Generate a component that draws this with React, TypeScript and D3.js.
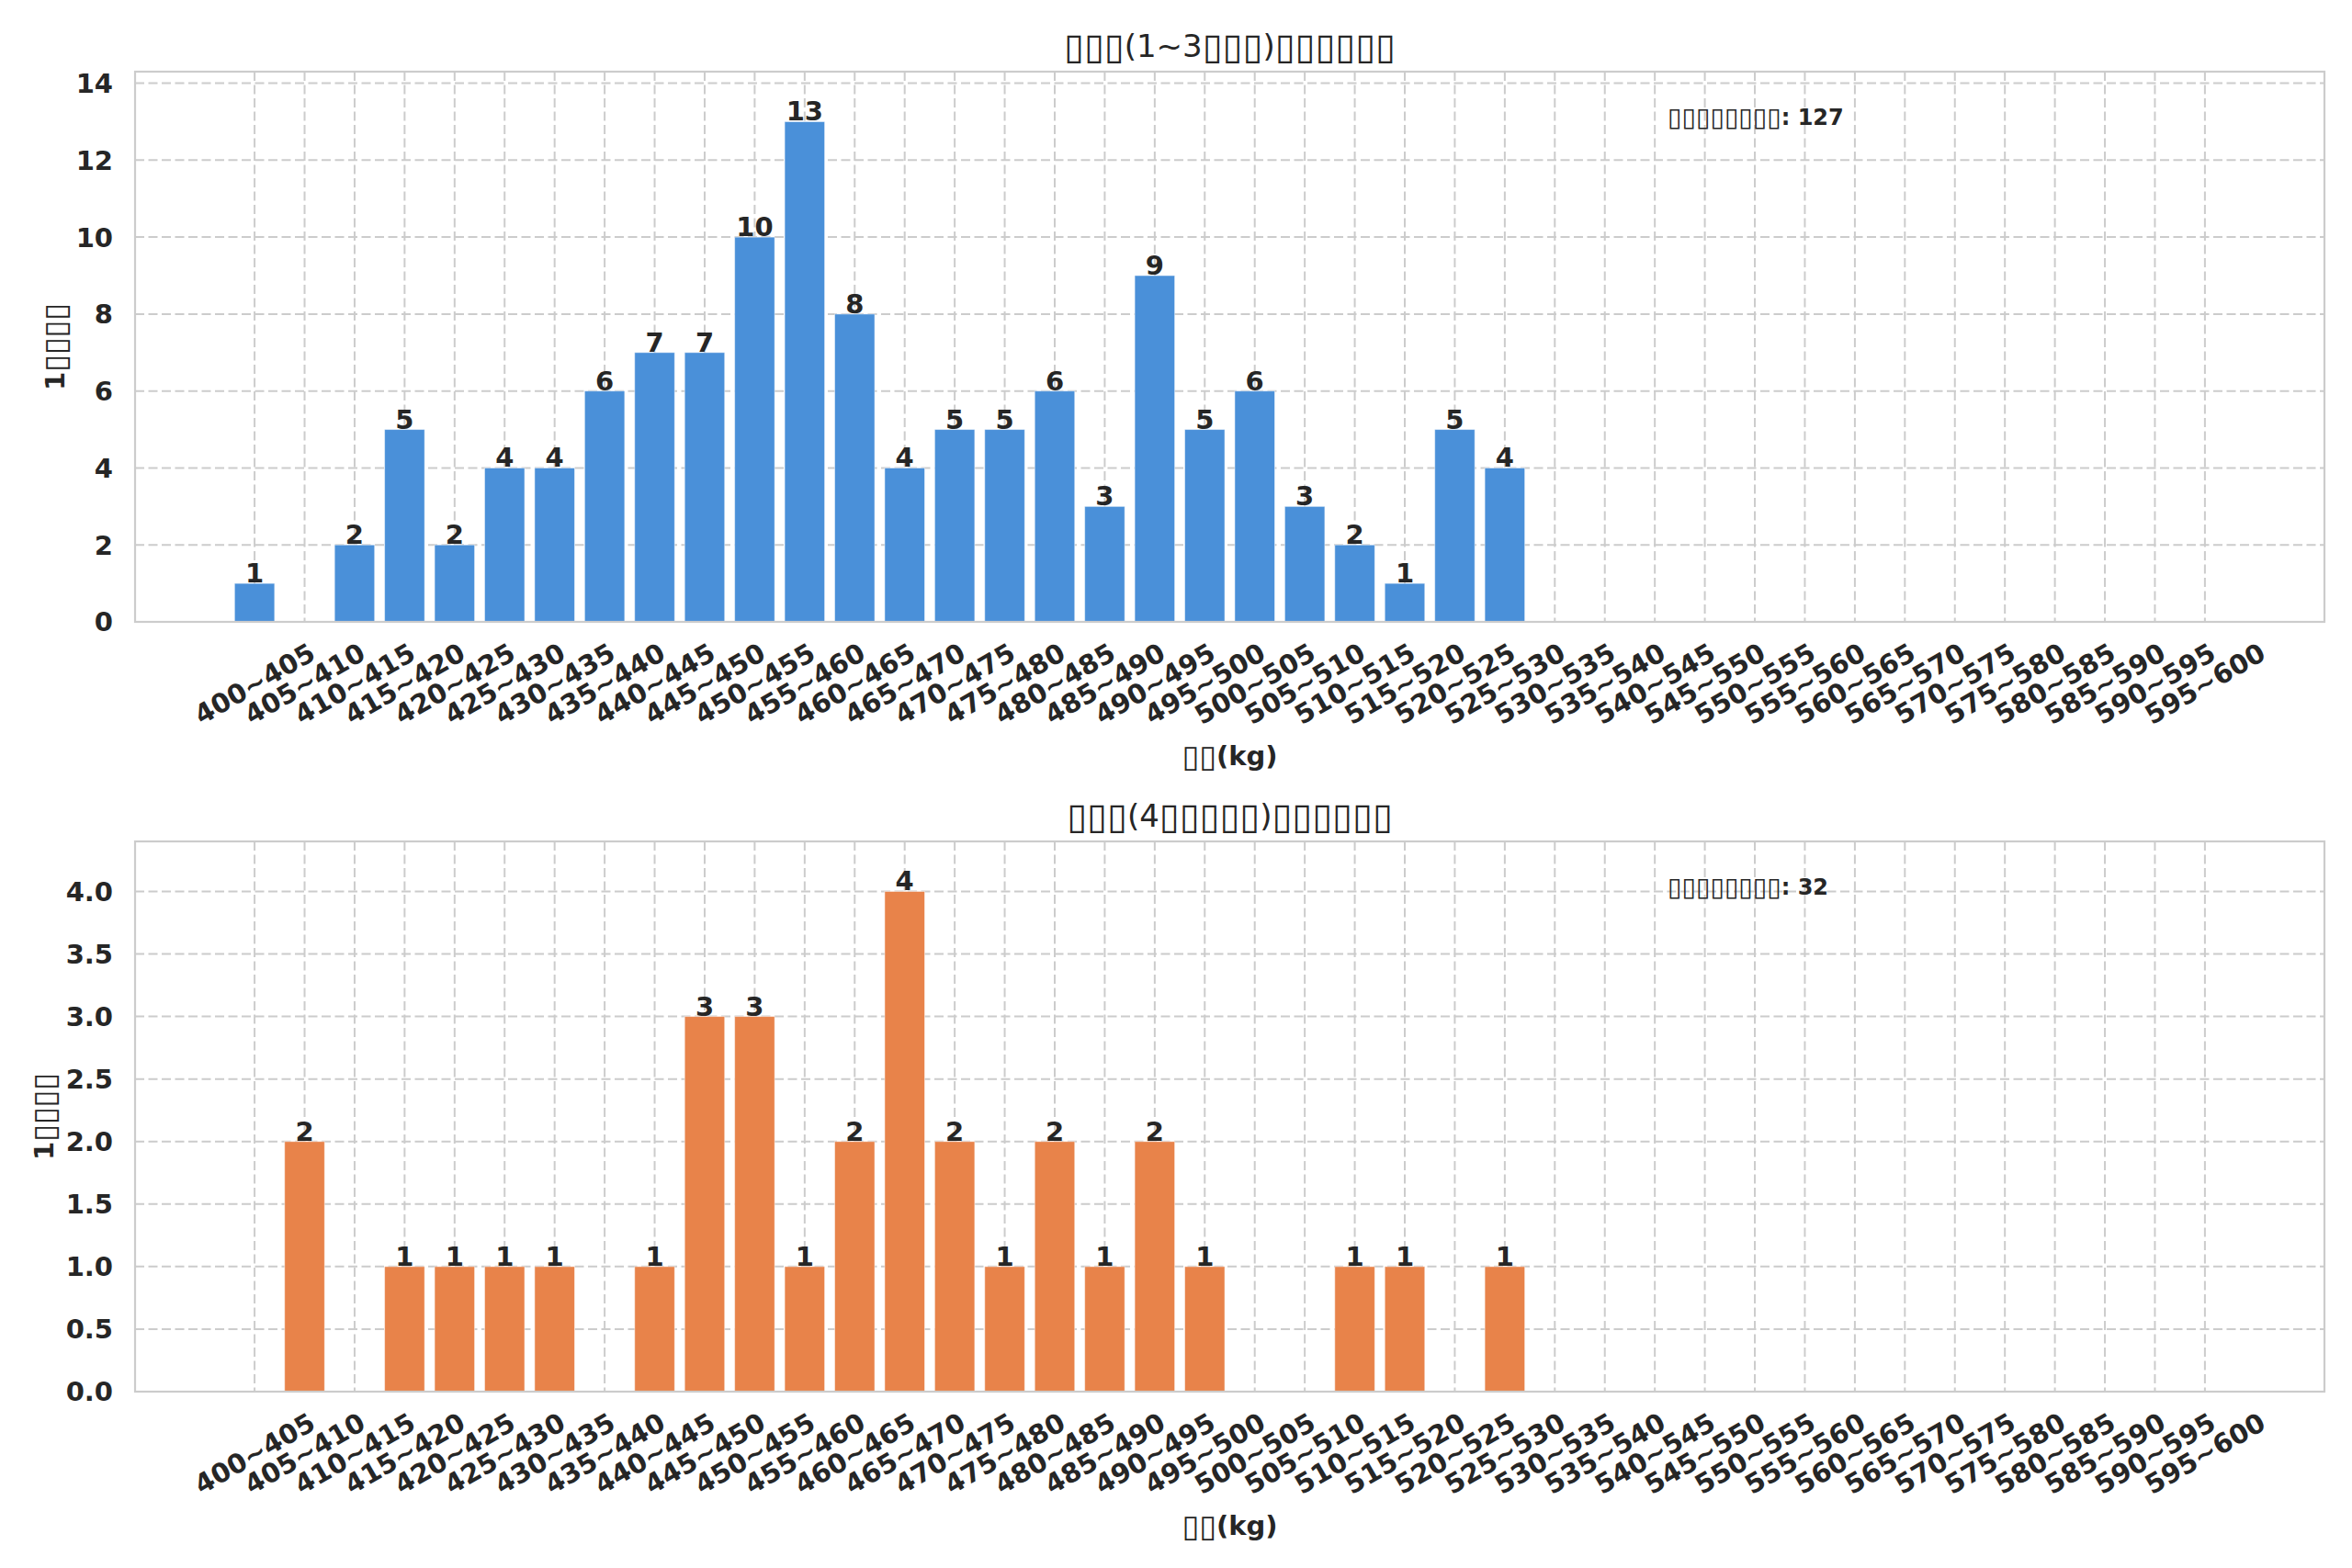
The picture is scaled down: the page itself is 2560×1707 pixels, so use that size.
import { useRef, useEffect } from "react";
import * as d3 from "d3";

// weight bins (kg)
const weightBins = [
  "400~405", "405~410", "410~415", "415~420", "420~425", "425~430", "430~435", "435~440",
  "440~445", "445~450", "450~455", "455~460", "460~465", "465~470", "470~475", "475~480",
  "480~485", "485~490", "490~495", "495~500", "500~505", "505~510", "510~515", "515~520",
  "520~525", "525~530", "530~535", "535~540", "540~545", "545~550", "550~555", "555~560",
  "560~565", "565~570", "570~575", "575~580", "580~585", "585~590", "590~595", "595~600",
];

const countsEarly = [
  1, 0, 2, 5, 2, 4, 4, 6, 7, 7, 10, 13, 8, 4, 5, 5, 6, 3, 9, 5,
  6, 3, 2, 1, 5, 4, 0, 0, 0, 0, 0, 0, 0, 0, 0, 0, 0, 0, 0, 0,
];
const countsLate = [
  0, 2, 0, 1, 1, 1, 1, 0, 1, 3, 3, 1, 2, 4, 2, 1, 2, 1, 2, 1,
  0, 0, 1, 1, 0, 1, 0, 0, 0, 0, 0, 0, 0, 0, 0, 0, 0, 0, 0, 0,
];

const yTicksEarly = [0, 2, 4, 6, 8, 10, 12, 14];
const yTicksLate = [0, 0.5, 1, 1.5, 2, 2.5, 3, 3.5, 4];

// the source chart's CJK glyphs were not rendered (shown as empty boxes)
const titleEarly = "□□□(1~3□□□)□□□□□□";
const titleLate = "□□□(4□□□□□)□□□□□□";
const xLabel = "□□(kg)";
const yLabel = "1□□□□";
const totalLabel = "□□□□□□□□";

const W = 2560;
const H = 1707;
const TEXT = "#262626";
const FONT = "DejaVu Sans";

// writes a string as tspans, the missing-glyph boxes drawn thin
function writeText(sel: d3.Selection<SVGTextElement, unknown, null, undefined>, str: string) {
  const runs = str.match(/□+|[^□]+/g) || [];
  runs.forEach((r) => {
    const t = sel.append("tspan");
    if (r[0] === "□") {
      t.text("▯".repeat(r.length))
        .attr("font-weight", "normal")
        .attr("font-size", "1.17em")
        .attr("baseline-shift", "-0.05em");
    } else {
      t.text(r);
    }
  });
}

export default function App() {
  const svgRef = useRef<SVGSVGElement>(null);

  useEffect(() => {
    if (!svgRef.current) return;
    const svg = d3.select(svgRef.current);
    svg.selectAll("*").remove();

    const left = 147;
    const right = 2530;

    const panels = [
      { counts: countsEarly, ticks: yTicksEarly, fmt: d3.format("d"), title: titleEarly, color: "#4A90D9", top: 78, bottom: 677, yLabelX: 60 },
      { counts: countsLate, ticks: yTicksLate, fmt: d3.format(".1f"), title: titleLate, color: "#E8834A", top: 916, bottom: 1515, yLabelX: 48 },
    ];

    const x = d3
      .scaleBand<string>()
      .domain(weightBins)
      .range([left, right])
      .paddingInner(0.2)
      .paddingOuter(1.99);
    const bw = x.bandwidth();
    const cx = (b: string) => (x(b) as number) + bw / 2;

    panels.forEach((p) => {
      const y = d3
        .scaleLinear()
        .domain([0, (d3.max(p.counts) as number) * 1.1])
        .range([p.bottom, p.top]);

      const g = svg.append("g");

      // grid
      g.selectAll(".hgrid")
        .data(p.ticks)
        .enter()
        .append("line")
        .attr("x1", left)
        .attr("x2", right)
        .attr("y1", (d) => y(d))
        .attr("y2", (d) => y(d))
        .attr("stroke", "#cccccc")
        .attr("stroke-width", 2)
        .attr("stroke-dasharray", "10,4.5");
      g.selectAll(".vgrid")
        .data(weightBins)
        .enter()
        .append("line")
        .attr("x1", (d) => cx(d))
        .attr("x2", (d) => cx(d))
        .attr("y1", p.top)
        .attr("y2", p.bottom)
        .attr("stroke", "#cccccc")
        .attr("stroke-width", 2)
        .attr("stroke-dasharray", "10,4.5");

      // bars
      const data = weightBins.map((b, i) => ({ bin: b, v: p.counts[i] }));
      g.selectAll(".bar")
        .data(data.filter((d) => d.v > 0))
        .enter()
        .append("rect")
        .attr("x", (d) => x(d.bin) as number)
        .attr("y", (d) => y(d.v))
        .attr("width", bw)
        .attr("height", (d) => p.bottom - y(d.v))
        .attr("fill", p.color)
        .attr("stroke", "#ffffff")
        .attr("stroke-opacity", 0.5)
        .attr("stroke-width", 1);

      // value labels
      g.selectAll(".val")
        .data(data.filter((d) => d.v > 0))
        .enter()
        .append("text")
        .attr("x", (d) => cx(d.bin))
        .attr("y", (d) => y(d.v) - 1)
        .attr("text-anchor", "middle")
        .attr("font-family", FONT)
        .attr("font-weight", "bold")
        .attr("font-size", 29)
        .attr("fill", TEXT)
        .text((d) => d.v);

      // spines
      g.append("rect")
        .attr("x", left)
        .attr("y", p.top)
        .attr("width", right - left)
        .attr("height", p.bottom - p.top)
        .attr("fill", "none")
        .attr("stroke", "#cccccc")
        .attr("stroke-width", 2.2);

      // y ticks
      g.selectAll(".ytick")
        .data(p.ticks)
        .enter()
        .append("text")
        .attr("x", 123)
        .attr("y", (d) => y(d))
        .attr("dy", "0.36em")
        .attr("text-anchor", "end")
        .attr("font-family", FONT)
        .attr("font-weight", "bold")
        .attr("font-size", 29)
        .attr("fill", TEXT)
        .text((d) => p.fmt(d));

      // x ticks
      g.selectAll(".xtick")
        .data(weightBins)
        .enter()
        .append("text")
        .attr("transform", (d) => `translate(${cx(d)},${p.bottom + 67}) rotate(-30)`)
        .attr("dy", "0.36em")
        .attr("text-anchor", "middle")
        .attr("font-family", FONT)
        .attr("font-weight", "bold")
        .attr("font-size", 29)
        .attr("fill", TEXT)
        .text((d) => d);

      // title
      const title = g
        .append("text")
        .attr("x", (left + right) / 2)
        .attr("y", p.top - 16)
        .attr("text-anchor", "middle")
        .attr("font-family", FONT)
        .attr("font-size", 34)
        .attr("fill", TEXT);
      writeText(title, p.title);

      // x label
      const xl = g
        .append("text")
        .attr("x", (left + right) / 2)
        .attr("y", p.bottom + 156)
        .attr("text-anchor", "middle")
        .attr("font-family", FONT)
        .attr("font-weight", "bold")
        .attr("font-size", 29)
        .attr("fill", TEXT);
      writeText(xl, xLabel);

      // y label
      const yl = g
        .append("text")
        .attr("transform", `translate(${p.yLabelX},${(p.top + p.bottom) / 2}) rotate(-90)`)
        .attr("dy", "0.36em")
        .attr("text-anchor", "middle")
        .attr("font-family", FONT)
        .attr("font-weight", "bold")
        .attr("font-size", 29)
        .attr("fill", TEXT);
      writeText(yl, yLabel);

      // total annotation
      const ann = g
        .append("text")
        .attr("x", left + 0.7 * (right - left))
        .attr("y", p.top + 58)
        .attr("font-family", FONT)
        .attr("font-weight", "bold")
        .attr("font-size", 24)
        .attr("fill", TEXT);
      writeText(ann, `${totalLabel}: ${d3.sum(p.counts)}`);
    });
  }, []);

  return (
    <svg
      ref={svgRef}
      width={W}
      height={H}
      viewBox={`0 0 ${W} ${H}`}
      style={{ position: "absolute", left: 0, top: 0, background: "#ffffff" }}
    />
  );
}
